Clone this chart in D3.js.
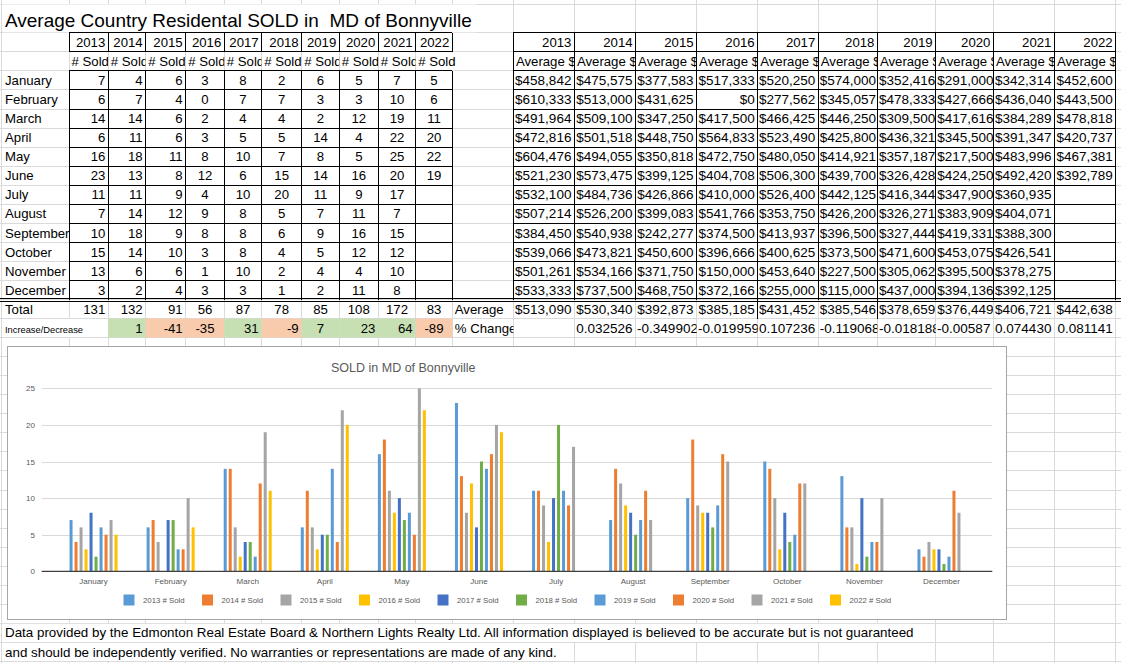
<!DOCTYPE html>
<html>
<head>
<meta charset="utf-8">
<script src="https://cdn.jsdelivr.net/npm/d3@7"></script>
<style>
  body { margin: 0; background: #fff; }
  svg { display: block; }
  text { font-family: "Liberation Sans", Arial, sans-serif; fill: #000; }
</style>
</head>
<body>
<svg id="sheet" width="1121" height="663"></svg>
<script>
// ---------------------------------------------------------------------------
// Data
// ---------------------------------------------------------------------------
const MONTHS = ['January', 'February', 'March', 'April', 'May', 'June', 'July',
  'August', 'September', 'October', 'November', 'December'];
const YEARS = [2013, 2014, 2015, 2016, 2017, 2018, 2019, 2020, 2021, 2022];

// # Sold per month
const SOLD_2013 = [7, 6, 14, 6, 16, 23, 11, 7, 10, 15, 13, 3];
const SOLD_2014 = [4, 7, 14, 11, 18, 13, 11, 14, 18, 14, 6, 2];
const SOLD_2015 = [6, 4, 6, 6, 11, 8, 9, 12, 9, 10, 6, 4];
const SOLD_2016 = [3, 0, 2, 3, 8, 12, 4, 9, 8, 3, 1, 3];
const SOLD_2017 = [8, 7, 4, 5, 10, 6, 10, 8, 8, 8, 10, 3];
const SOLD_2018 = [2, 7, 4, 5, 7, 15, 20, 5, 6, 4, 2, 1];
const SOLD_2019 = [6, 3, 2, 14, 8, 14, 11, 7, 9, 5, 4, 2];
const SOLD_2020 = [5, 3, 12, 4, 5, 16, 9, 11, 16, 12, 4, 11];
const SOLD_2021 = [7, 10, 19, 22, 25, 20, 17, 7, 15, 12, 10, 8];
const SOLD_2022 = [5, 6, 11, 20, 22, 19, null, null, null, null, null, null];

// Average $ per month
const AVG_2013 = [458842, 610333, 491964, 472816, 604476, 521230, 532100, 507214, 384450, 539066, 501261, 533333];
const AVG_2014 = [475575, 513000, 509100, 501518, 494055, 573475, 484736, 526200, 540938, 473821, 534166, 737500];
const AVG_2015 = [377583, 431625, 347250, 448750, 350818, 399125, 426866, 399083, 242277, 450600, 371750, 468750];
const AVG_2016 = [517333, 0, 417500, 564833, 472750, 404708, 410000, 541766, 374500, 396666, 150000, 372166];
const AVG_2017 = [520250, 277562, 466425, 523490, 480050, 506300, 526400, 353750, 413937, 400625, 453640, 255000];
const AVG_2018 = [574000, 345057, 446250, 425800, 414921, 439700, 442125, 426200, 396500, 373500, 227500, 115000];
const AVG_2019 = [352416, 478333, 309500, 436321, 357187, 326428, 416344, 326271, 327444, 471600, 305062, 437000];
const AVG_2020 = [291000, 427666, 417616, 345500, 217500, 424250, 347900, 383909, 419331, 453075, 395500, 394136];
const AVG_2021 = [342314, 436040, 384289, 391347, 483996, 492420, 360935, 404071, 388300, 426541, 378275, 392125];
const AVG_2022 = [452600, 443500, 478818, 420737, 467381, 392789, null, null, null, null, null, null];

const TOTAL_SOLD  = [131, 132, 91, 56, 87, 78, 85, 108, 172, 83];
const CHANGE_SOLD = [null, 1, -41, -35, 31, -9, 7, 23, 64, -89];
const TOTAL_AVG   = [513090, 530340, 392873, 385185, 431452, 385546, 378659, 376449, 406721, 442638];
const PCT_CHANGE  = [null, '0.032526', '-0.349902', '-0.019959', '0.107236', '-0.119068',
  '-0.018188', '-0.00587', '0.074430', '0.081141'];

const SERIES_COLORS = ['#5B9BD5', '#ED7D31', '#A5A5A5', '#FFC000', '#4472C4',
  '#70AD47', '#5B9BD5', '#ED7D31', '#A5A5A5', '#FFC000'];

const TITLE = 'Average Country Residental SOLD in  MD of Bonnyville';
const CHART_TITLE = 'SOLD in MD of Bonnyville';
const NOTE_1 = 'Data provided by the Edmonton Real Estate Board & Northern Lights Realty Ltd. All information displayed is believed to be accurate but is not guaranteed';
const NOTE_2 = 'and should be independently verified. No warranties or representations are made of any kind.';

const SOLD = [SOLD_2013, SOLD_2014, SOLD_2015, SOLD_2016, SOLD_2017, SOLD_2018, SOLD_2019, SOLD_2020, SOLD_2021, SOLD_2022];
const AVG  = [AVG_2013, AVG_2014, AVG_2015, AVG_2016, AVG_2017, AVG_2018, AVG_2019, AVG_2020, AVG_2021, AVG_2022];

// ---------------------------------------------------------------------------
// Sheet layout
// ---------------------------------------------------------------------------
const W = 1121, H = 663;
const ROW_H = 19.05, ROW0 = 32.8;
const rowY = k => ROW0 + k * ROW_H;
const LEFT_COLS  = [69, 108.3, 145.7, 185.7, 224.3, 261.7, 301.7, 339.3, 378.3, 415.7, 452.3];
const RIGHT_COLS = [513.4, 574.4, 635.6, 696.6, 757.7, 818.3, 877.4, 935.7, 993.4, 1054.4, 1115.7];
const SHEET_COLS = [1, ...LEFT_COLS, ...RIGHT_COLS];
const SHEET_ROWS = [4, ...d3.range(34).map(rowY)];
const FONT = 13.2;
const FONT_RIGHT = 13.5;

// per-column alignment of the count cells (r = right, c = centre)
const ALIGN_SOLD   = ['r', 'r', 'r', 'c', 'c', 'c', 'c', 'c', 'c', 'c'];
const ALIGN_CHANGE = ['r', 'r', 'r', 'c', 'r', 'r', 'c', 'r', 'r', 'c'];

const svg = d3.select('#sheet');
svg.append('rect').attr('width', W).attr('height', H).attr('fill', '#fff');

// gridlines
const grid = svg.append('g').attr('stroke', '#DADADA').attr('shape-rendering', 'crispEdges');
grid.selectAll('line.v').data(SHEET_COLS).join('line').attr('class', 'v')
  .attr('x1', d => d).attr('x2', d => d).attr('y1', 0).attr('y2', H);
grid.selectAll('line.h').data(SHEET_ROWS).join('line').attr('class', 'h')
  .attr('x1', 0).attr('x2', W).attr('y1', d => d).attr('y2', d => d);

// text spilling over neighbour cells hides the gridlines under it
const spill = [
  [2, 4.5, 474, 27.8],
  [2, rowY(31) + 0.5, 912, ROW_H - 1],
  [2, rowY(32) + 0.5, 560, ROW_H - 1],
  [66, rowY(15) + 0.5, 6, ROW_H - 1],
  [449, rowY(1) + 0.5, 6, ROW_H - 1],
];
svg.append('g').selectAll('rect').data(spill).join('rect')
  .attr('x', d => d[0]).attr('y', d => d[1]).attr('width', d => d[2]).attr('height', d => d[3])
  .attr('fill', '#fff');

// increase / decrease fills
svg.append('g').selectAll('rect')
  .data(CHANGE_SOLD.map((v, i) => ({ v, i })).filter(d => d.v !== null))
  .join('rect')
  .attr('x', d => LEFT_COLS[d.i]).attr('width', d => LEFT_COLS[d.i + 1] - LEFT_COLS[d.i])
  .attr('y', rowY(15)).attr('height', ROW_H)
  .attr('fill', d => d.v >= 0 ? '#C6E0B4' : '#F8CBAD');

// borders
const borders = svg.append('g').attr('stroke', '#000').attr('shape-rendering', 'crispEdges');
function hLine(x1, x2, y) { borders.append('line').attr('x1', x1).attr('x2', x2).attr('y1', y).attr('y2', y); }
function vLine(x, y1, y2) { borders.append('line').attr('x1', x).attr('x2', x).attr('y1', y1).attr('y2', y2); }

[0, 1].forEach(k => hLine(LEFT_COLS[0], LEFT_COLS[10], rowY(k)));
LEFT_COLS.forEach(x => vLine(x, rowY(0), rowY(1)));
d3.range(2, 14).forEach(k => hLine(LEFT_COLS[0], LEFT_COLS[10], rowY(k)));
LEFT_COLS.forEach(x => vLine(x, rowY(2), rowY(14)));

d3.range(0, 14).forEach(k => hLine(RIGHT_COLS[0], RIGHT_COLS[10], rowY(k)));
RIGHT_COLS.forEach(x => vLine(x, rowY(0), rowY(14)));
[RIGHT_COLS[4], RIGHT_COLS[6]].forEach(x => vLine(x, rowY(14), rowY(15)));

// double line under December
hLine(0, W, Math.round(rowY(14)) - 1.5);
hLine(0, W, Math.round(rowY(14)) + 1);

// ---------------------------------------------------------------------------
// Cell text (clipped like a spreadsheet cell)
// ---------------------------------------------------------------------------
const cells = svg.append('g');

function cell(x0, x1, k, str, align, size) {
  if (str === null || str === undefined || str === '') return;
  const w = x1 - x0;
  const box = cells.append('svg')
    .attr('x', x0).attr('y', rowY(k)).attr('width', w).attr('height', ROW_H)
    .attr('overflow', 'hidden');
  const t = box.append('text')
    .attr('y', ROW_H / 2 + 4.7)
    .attr('font-size', size || FONT)
    .text(str);
  const len = t.node().getComputedTextLength();
  if (align === 'l' || len > w - 4) t.attr('x', align === 'l' ? 2.5 : 1.5);
  else if (align === 'c') t.attr('x', w / 2).attr('text-anchor', 'middle');
  else t.attr('x', w - 3).attr('text-anchor', 'end');
}

const money = d3.format('$,');

// left table
YEARS.forEach((yr, j) => {
  const a = LEFT_COLS[j], b = LEFT_COLS[j + 1];
  cell(a, b, 0, String(yr), 'r');
  cell(a, j === 9 ? RIGHT_COLS[0] : b, 1, '# Sold', 'l');
  SOLD[j].forEach((v, i) => cell(a, b, i + 2, v === null ? null : String(v), ALIGN_SOLD[j]));
  cell(a, b, 14, String(TOTAL_SOLD[j]), ALIGN_SOLD[j]);
  cell(a, b, 15, CHANGE_SOLD[j] === null ? null : String(CHANGE_SOLD[j]), ALIGN_CHANGE[j]);
});
MONTHS.forEach((m, i) => cell(2.5, LEFT_COLS[0], i + 2, m, 'l'));
cell(2.5, LEFT_COLS[0], 14, 'Total', 'l');
cell(2.5, LEFT_COLS[1], 15, 'Increase/Decrease', 'l', 9.3);
cell(LEFT_COLS[10], RIGHT_COLS[0], 14, 'Average', 'l');
cell(LEFT_COLS[10], RIGHT_COLS[0], 15, '% Change', 'l');

// right table
YEARS.forEach((yr, j) => {
  const a = RIGHT_COLS[j], b = RIGHT_COLS[j + 1];
  cell(a, b, 0, String(yr), 'r');
  cell(a, b, 1, 'Average $', 'l');
  AVG[j].forEach((v, i) => cell(a, b, i + 2, v === null ? null : money(v), 'r', FONT_RIGHT));
  cell(a, b, 14, money(TOTAL_AVG[j]), 'r', FONT_RIGHT);
  cell(a, b, 15, PCT_CHANGE[j], 'r', FONT_RIGHT);
});

// title and footnote, sized to the widths they take on the sheet
function fitText(x, y, str, width, size) {
  const t = svg.append('text').attr('x', x).attr('y', y).attr('font-size', size)
    .style('white-space', 'pre').text(str);
  const len = t.node().getComputedTextLength();
  const fs = size * width / len;
  t.attr('font-size', fs);
  return fs;
}
fitText(5, 26.7, TITLE, 467, 20);
const noteSize = fitText(5, 637.4, NOTE_1, 909, 13);
svg.append('text').attr('x', 5).attr('y', 657.2).attr('font-size', noteSize).text(NOTE_2);

// ---------------------------------------------------------------------------
// Chart
// ---------------------------------------------------------------------------
const chart = svg.append('g');
chart.append('rect')
  .attr('x', 7.5).attr('y', 346.5).attr('width', 999).attr('height', 273)
  .attr('fill', '#fff').attr('stroke', '#A6A6A6');

const plot = { left: 41.7, right: 992.3 };
const x0 = d3.scaleBand().domain(MONTHS).range([55, 980]);
const groupW = 50;
const x1 = d3.scaleBand().domain(YEARS).range([0, groupW]).paddingInner(0.4).paddingOuter(0.2);
const y = d3.scaleLinear().domain([0, 25]).range([571.3, 388.3]);

// y axis + gridlines
const yAxis = chart.append('g')
  .attr('transform', `translate(${plot.left},0)`)
  .call(d3.axisLeft(y).tickValues([0, 5, 10, 15, 20, 25])
    .tickSize(-(plot.right - plot.left)).tickPadding(6.7));
yAxis.select('.domain').remove();
yAxis.selectAll('.tick line').attr('stroke', '#D9D9D9').attr('shape-rendering', 'crispEdges');
yAxis.selectAll('.tick text').attr('font-size', 8).style('fill', '#595959')
  .attr('font-family', '"Liberation Sans", Arial, sans-serif');

// bars
const barData = [];
YEARS.forEach((yr, j) => SOLD[j].forEach((v, i) => {
  if (v !== null) barData.push({ month: MONTHS[i], year: yr, v, color: SERIES_COLORS[j] });
}));
chart.append('g').selectAll('rect').data(barData).join('rect')
  .attr('x', d => x0(d.month) + (x0.bandwidth() - groupW) / 2 + x1(d.year))
  .attr('width', x1.bandwidth())
  .attr('y', d => y(d.v))
  .attr('height', d => y(0) - y(d.v))
  .attr('fill', d => d.color);

// category axis
chart.append('line')
  .attr('x1', plot.left).attr('x2', plot.right).attr('y1', y(0)).attr('y2', y(0))
  .attr('stroke', '#404040').attr('stroke-width', 1.3);
const xAxis = chart.append('g')
  .attr('transform', `translate(0,${y(0)})`)
  .call(d3.axisBottom(x0).tickSize(0).tickPadding(6.9));
xAxis.select('.domain').remove();
xAxis.selectAll('.tick text').attr('font-size', 8).style('fill', '#595959')
  .attr('font-family', '"Liberation Sans", Arial, sans-serif');

// chart title
chart.append('text')
  .attr('x', 331).attr('y', 371.8).attr('font-size', 12.5)
  .style('fill', '#595959').text(CHART_TITLE);

// legend
const legend = chart.append('g').selectAll('g').data(YEARS).join('g')
  .attr('transform', (d, i) => `translate(${123 + i * 78.5},600)`);
legend.append('rect')
  .attr('x', 0.5).attr('y', -5.5).attr('width', 11).attr('height', 11)
  .attr('fill', (d, i) => SERIES_COLORS[i]);
legend.append('text')
  .attr('x', 20).attr('y', 2.8).attr('font-size', 7.8)
  .style('fill', '#595959').text(d => `${d} # Sold`);
</script>
</body>
</html>
